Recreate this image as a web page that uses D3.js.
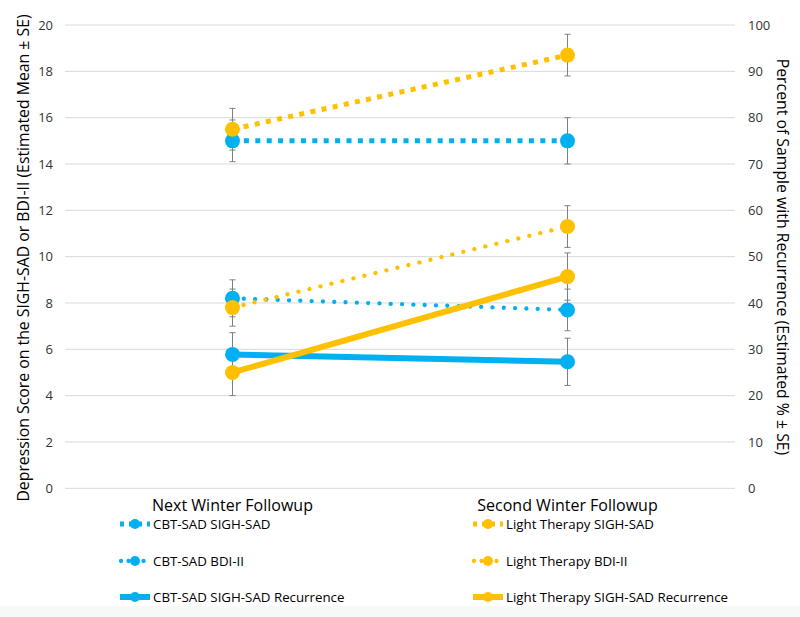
<!DOCTYPE html>
<html>
<head>
<meta charset="utf-8">
<script src="https://cdn.jsdelivr.net/npm/d3@7"></script>
<style>
  html, body { margin: 0; padding: 0; background: #fff; }
  svg { display: block; font-family: "Open Sans", "Noto Sans", sans-serif; }
</style>
</head>
<body>
<svg id="chart" width="800" height="617"></svg>
<script>
// categories and series
const categories = ["Next Winter Followup", "Second Winter Followup"];

const cbtSigh = [15.0, 15.0];
const cbtSighSE = [0.9, 1.0];
const lightSigh = [15.5, 18.7];
const lightSighSE = [0.9, 0.9];
const cbtBdi = [8.2, 7.7];
const cbtBdiSE = [0.8, 0.9];
const lightBdi = [7.8, 11.3];
const lightBdiSE = [0.8, 0.9];
const cbtRec = [28.9, 27.3];      // percent, right axis
const cbtRecSE = [4.7, 5.1];
const lightRec = [25.0, 45.7];
const lightRecSE = [5.0, 5.1];

const leftTicks = [0, 2, 4, 6, 8, 10, 12, 14, 16, 18, 20];
const rightTicks = [0, 10, 20, 30, 40, 50, 60, 70, 80, 90, 100];

const BLUE = "#00b0f0", GOLD = "#ffc000";

// series table, in drawing order
const series = [
  {name: "CBT-SAD SIGH-SAD", vals: cbtSigh, se: cbtSighSE, axis: "L", color: BLUE, style: "square"},
  {name: "Light Therapy SIGH-SAD", vals: lightSigh, se: lightSighSE, axis: "L", color: GOLD, style: "square"},
  {name: "CBT-SAD BDI-II", vals: cbtBdi, se: cbtBdiSE, axis: "L", color: BLUE, style: "round"},
  {name: "Light Therapy BDI-II", vals: lightBdi, se: lightBdiSE, axis: "L", color: GOLD, style: "round"},
  {name: "CBT-SAD SIGH-SAD Recurrence", vals: cbtRec, se: cbtRecSE, axis: "R", color: BLUE, style: "solid"},
  {name: "Light Therapy SIGH-SAD Recurrence", vals: lightRec, se: lightRecSE, axis: "R", color: GOLD, style: "solid"}
];

const lineStyle = {
  square: {w: 5, dash: "5 6.4", cap: "butt"},
  round:  {w: 4.3, dash: "0.01 11.3", cap: "round"},
  solid:  {w: 6, dash: null, cap: "butt"}
};

const svg = d3.select("#chart");
const plot = {left: 65, right: 735, top: 25, bottom: 488.3};

// faint strip at the very bottom of the picture
svg.append("rect").attr("x", 0).attr("y", 606).attr("width", 800).attr("height", 11).attr("fill", "#f8f8f8");

const x = d3.scaleBand().domain(categories).range([plot.left, plot.right]);
const yL = d3.scaleLinear().domain([0, 20]).range([plot.bottom, plot.top]);
const yR = d3.scaleLinear().domain([0, 100]).range([plot.bottom, plot.top]);
const cx = i => x(categories[i]) + x.bandwidth() / 2;
const yOf = s => s.axis === "L" ? yL : yR;

// gridlines
svg.append("g").selectAll("line").data(leftTicks).join("line")
  .attr("x1", plot.left).attr("x2", plot.right)
  .attr("y1", d => yL(d)).attr("y2", d => yL(d))
  .attr("stroke", "#d9d9d9").attr("stroke-width", 1);

// axis labels
const axL = svg.append("g").attr("transform", `translate(${plot.left},0)`)
  .call(d3.axisLeft(yL).tickValues(leftTicks).tickSize(0).tickPadding(12));
axL.select(".domain").remove();
axL.selectAll("text").attr("font-size", 13).attr("fill", "#333").attr("font-family", "Open Sans");

const axR = svg.append("g").attr("transform", `translate(${plot.right},0)`)
  .call(d3.axisRight(yR).tickValues(rightTicks).tickSize(0).tickPadding(13));
axR.select(".domain").remove();
axR.selectAll("text").attr("font-size", 13).attr("fill", "#333").attr("font-family", "Open Sans");

// category labels
svg.append("g").selectAll("text").data(categories).join("text")
  .attr("x", d => x(d) + x.bandwidth() / 2).attr("y", 510.5)
  .attr("text-anchor", "middle").attr("font-size", 16).attr("fill", "#000")
  .text(d => d);

// axis titles
svg.append("text")
  .attr("transform", "translate(29,258) rotate(-90)")
  .attr("text-anchor", "middle").attr("font-size", 15.8).attr("fill", "#000")
  .text("Depression Score on the SIGH-SAD or BDI-II (Estimated Mean ± SE)");
svg.append("text")
  .attr("transform", "translate(777,257) rotate(90)")
  .attr("text-anchor", "middle").attr("font-size", 15.8).attr("fill", "#000")
  .text("Percent of Sample with Recurrence (Estimated % ± SE)");

// error bars (under the marks)
const eb = svg.append("g").attr("stroke", "#7f7f7f").attr("stroke-width", 1);
series.forEach(s => {
  const y = yOf(s);
  s.vals.forEach((v, i) => {
    const hi = y(v + s.se[i]), lo = y(v - s.se[i]), px = cx(i);
    eb.append("line").attr("x1", px).attr("x2", px).attr("y1", hi).attr("y2", lo);
    eb.append("line").attr("x1", px - 3).attr("x2", px + 3).attr("y1", hi).attr("y2", hi);
    eb.append("line").attr("x1", px - 3).attr("x2", px + 3).attr("y1", lo).attr("y2", lo);
  });
});

// lines and markers
series.forEach(s => {
  const y = yOf(s), st = lineStyle[s.style];
  const line = d3.line().x((d, i) => cx(i)).y(d => y(d));
  svg.append("path").datum(s.vals)
    .attr("d", line)
    .attr("fill", "none").attr("stroke", s.color)
    .attr("stroke-width", st.w).attr("stroke-linecap", st.cap)
    .attr("stroke-dasharray", st.dash);
  svg.append("g").selectAll("circle").data(s.vals).join("circle")
    .attr("cx", (d, i) => cx(i)).attr("cy", d => y(d)).attr("r", 7.5)
    .attr("fill", s.color);
});

// legend: two columns, three rows
const legendRows = [524, 561, 597];
const legendCols = [120, 473];
series.forEach((s, k) => {
  const col = k % 2, row = Math.floor(k / 2);
  const x0 = legendCols[col], y0 = legendRows[row], st = lineStyle[s.style];
  const g = svg.append("g");
  g.append("line").attr("x1", x0).attr("x2", x0 + 30).attr("y1", y0).attr("y2", y0)
    .attr("stroke", s.color).attr("stroke-width", st.w).attr("stroke-linecap", st.cap)
    .attr("stroke-dasharray", s.style === "square" ? "4 5" : s.style === "round" ? "0.01 7.5" : null)
    .attr("stroke-dashoffset", s.style === "round" ? -1 : 0);
  g.append("circle").attr("cx", x0 + 15).attr("cy", y0).attr("r", 5).attr("fill", s.color);
  g.append("text").attr("x", x0 + 33).attr("y", y0 + 5.3)
    .attr("font-size", 13.3).attr("fill", "#000").text(s.name);
});
</script>
</body>
</html>
